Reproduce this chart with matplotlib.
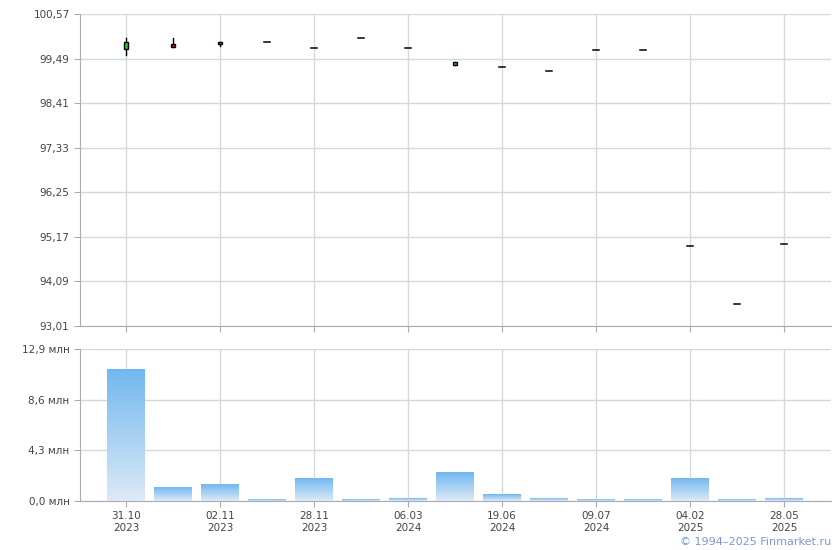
import numpy as np
import matplotlib
matplotlib.use("Agg")
import matplotlib.pyplot as plt
from matplotlib.patches import Rectangle

# data
tick_labels = ["31.10\n2023", "02.11\n2023", "28.11\n2023", "06.03\n2024",
               "19.06\n2024", "09.07\n2024", "04.02\n2025", "28.05\n2025"]
opens = [99.73, 99.84, 99.84, 99.89, 99.74, 99.98, 99.74, 99.33,
         99.28, 99.18, 99.70, 99.70, 94.95, 93.54, 95.00]
closes = [99.89, 99.78, 99.89, 99.89, 99.74, 99.98, 99.74, 99.40,
          99.28, 99.18, 99.70, 99.70, 94.95, 93.54, 95.00]
highs = [99.99, 99.99, 99.89, 99.89, 99.74, 99.98, 99.74, 99.40,
         99.28, 99.18, 99.70, 99.70, 94.95, 93.54, 95.00]
lows = [99.58, 99.78, 99.79, 99.89, 99.74, 99.98, 99.74, 99.33,
        99.28, 99.18, 99.70, 99.70, 94.95, 93.54, 95.00]
volumes = [11.2, 1.13, 1.44, 0.12, 1.95, 0.1, 0.25, 2.46,
           0.53, 0.25, 0.12, 0.1, 1.95, 0.12, 0.2]
price_ticks = [93.01, 94.09, 95.17, 96.25, 97.33, 98.41, 99.49, 100.57]
vol_ticks = [0.0, 4.3, 8.6, 12.9]

GRID = "#d3d9de"
AXIS = "#a8acb4"
TXT = "#444444"

fig = plt.figure(figsize=(8.4, 5.5), dpi=100)
ax1 = fig.add_axes([80/840, 1-326/550, 751/840, 312/550])
ax2 = fig.add_axes([80/840, 1-501/550, 751/840, 152/550])

n = len(opens)
xs = np.arange(n)
label_pos = xs[::2]

for ax in (ax1, ax2):
    ax.set_xlim(-0.98, 15.0)
    ax.set_xticks(label_pos)
    ax.grid(True, color=GRID, linewidth=1)
    ax.set_axisbelow(True)
    for s in ("top", "right"):
        ax.spines[s].set_visible(False)
    for s in ("left", "bottom"):
        ax.spines[s].set_color(AXIS)
    ax.tick_params(colors=AXIS, labelcolor=TXT, labelsize=7.5, length=4)

# candles
ax1.set_ylim(93.01, 100.57)
ax1.set_yticks(price_ticks)
ax1.set_yticklabels([f"{v:.2f}".replace(".", ",") for v in price_ticks])
ax1.set_xticklabels([])
bw = 0.1
for i in range(n):
    o, c, h, l = opens[i], closes[i], highs[i], lows[i]
    if h > l:
        ax1.plot([i, i], [l, h], color="black", linewidth=1, zorder=3)
    if o == c:
        ax1.plot([i - 0.06, i + 0.06], [o, o], color="black", linewidth=1.1, zorder=4)
    else:
        col = "#22cc22" if c > o else "#cc1111"
        ax1.add_patch(Rectangle((i - bw/2, min(o, c)), bw, abs(c - o),
                                facecolor=col, edgecolor="black", linewidth=1, zorder=4))

# volume bars with vertical gradient
ax2.set_ylim(0, 12.9)
ax2.set_yticks(vol_ticks)
ax2.set_yticklabels([f"{v:.1f} млн".replace(".", ",") for v in vol_ticks])
ax2.set_xticklabels(tick_labels)
grad = np.linspace(0, 1, 100).reshape(-1, 1)
cmap = matplotlib.colors.LinearSegmentedColormap.from_list("v", ["#dde9f6", "#72b8f0"])
for i, v in enumerate(volumes):
    ax2.imshow(grad, extent=[i - 0.4, i + 0.4, 0, v], origin="lower",
               aspect="auto", cmap=cmap, zorder=3, interpolation="bilinear")
ax2.set_xlim(-0.98, 15.0)
ax2.set_ylim(0, 12.9)

fig.text(831/840, 1-542/550, "© 1994–2025 Finmarket.ru", color="#7a95e0",
         fontsize=8, ha="right", va="center")

fig.savefig("out.png", dpi=100)
